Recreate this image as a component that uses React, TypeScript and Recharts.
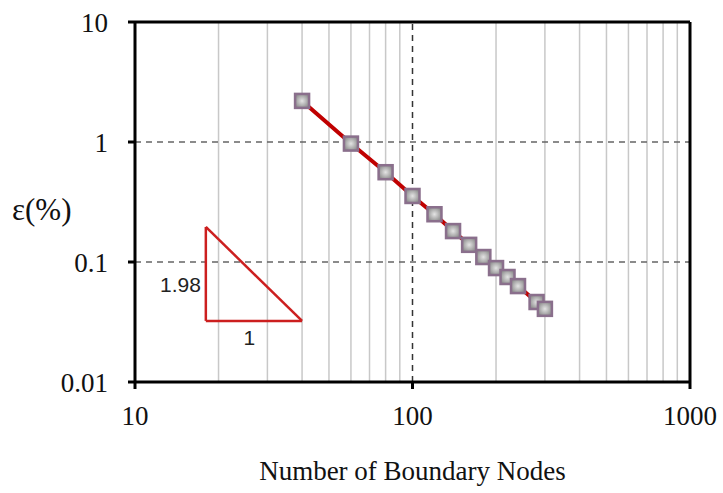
import React from 'react';
import { ComposedChart, Line, XAxis, YAxis, ReferenceLine, Label } from 'recharts';

// convergence of error vs number of boundary nodes (log-log)
const nodes = [40, 60, 80, 100, 120, 140, 160, 180, 200, 220, 240, 280, 300];
const errorPct = [2.2, 0.97, 0.56, 0.355, 0.25, 0.181, 0.139, 0.11, 0.089, 0.075, 0.063, 0.0464, 0.0407];

const xTicks = [10, 100, 1000];
const yTicks = [0.01, 0.1, 1, 10];
const xMinorGrid = [20, 30, 40, 50, 60, 70, 80, 90, 200, 300, 400, 500, 600, 700, 800, 900];
const yMajorGrid = [0.1, 1];

// slope triangle corners
const triLeft = 18;
const triRight = 40;
const triTop = 0.196;
const triBottom = 0.0323;

const data = nodes.map((n, i) => ({ n, e: errorPct[i] }));

const serif = '"Liberation Serif", "Times New Roman", serif';
const sans = '"Liberation Sans", Arial, sans-serif';

function SquareDot(props: any) {
  const { cx, cy } = props;
  if (cx == null || cy == null) return null;
  return (
    <rect
      x={cx - 7}
      y={cy - 7}
      width={14}
      height={14}
      fill="url(#dotFill)"
      stroke="#8a6f8c"
      strokeWidth={2.5}
    />
  );
}

export default function App() {
  return (
    <div style={{ position: 'absolute', left: 0, top: 0, width: 723, height: 493, background: '#fff' }}>
      <ComposedChart width={723} height={493} data={data} margin={{ top: 22, right: 33, bottom: 0, left: 0 }}>
        <defs>
          <radialGradient id="dotFill" cx="50%" cy="50%" r="65%">
            <stop offset="0%" stopColor="#e4e4e4" />
            <stop offset="100%" stopColor="#7d7d7d" />
          </radialGradient>
        </defs>
        <XAxis
          dataKey="n"
          type="number"
          scale="log"
          domain={[10, 1000]}
          ticks={xTicks}
          allowDataOverflow
          height={111}
          axisLine={{ stroke: '#000', strokeWidth: 3 }}
          tickLine={{ stroke: '#000', strokeWidth: 3 }}
          tickSize={7}
          tickMargin={17}
          tick={{ fill: '#111', fontSize: 27, fontFamily: serif }}
        >
          <Label
            value="Number of Boundary Nodes"
            position="insideBottom"
            offset={13}
            style={{ fill: '#111', fontSize: 27, fontFamily: serif }}
          />
        </XAxis>
        <YAxis
          type="number"
          scale="log"
          domain={[0.01, 10]}
          ticks={yTicks}
          allowDataOverflow
          width={135}
          axisLine={{ stroke: '#000', strokeWidth: 3 }}
          tickLine={{ stroke: '#000', strokeWidth: 3 }}
          tickSize={7}
          tickMargin={20}
          tickFormatter={(v: number) => String(v)}
          tick={{ fill: '#111', fontSize: 27, fontFamily: serif }}
        >
          <Label
            value="ε(%)"
            position="insideLeft"
            offset={12}
            dy={7}
            style={{ fill: '#111', fontSize: 31, fontFamily: serif }}
          />
        </YAxis>

        {xMinorGrid.map((v) => (
          <ReferenceLine key={'gx' + v} x={v} stroke="#c8c8c8" strokeWidth={1.5} />
        ))}
        <ReferenceLine x={100} stroke="#333" strokeDasharray="6 5" strokeWidth={1.5} />
        {yMajorGrid.map((v) => (
          <ReferenceLine key={'gy' + v} y={v} stroke="#666" strokeDasharray="6 5" strokeWidth={1.5} />
        ))}
        {/* frame on top and right */}
        <ReferenceLine y={10} stroke="#000" strokeWidth={3} />
        <ReferenceLine x={1000} stroke="#000" strokeWidth={3} />

        {/* slope triangle */}
        <ReferenceLine
          segment={[{ x: triLeft, y: triTop }, { x: triLeft, y: triBottom }]}
          stroke="#cc1f1f"
          strokeWidth={2.5}
        />
        <ReferenceLine
          segment={[{ x: triLeft, y: triBottom }, { x: triRight, y: triBottom }]}
          stroke="#cc1f1f"
          strokeWidth={2.5}
        />
        <ReferenceLine
          segment={[{ x: triLeft, y: triTop }, { x: triRight, y: triBottom }]}
          stroke="#cc1f1f"
          strokeWidth={2.5}
        />
        <ReferenceLine
          segment={[{ x: triLeft, y: 0.065 }, { x: triLeft, y: 0.065 }]}
          stroke="none"
          label={{ value: '1.98', position: 'left', fill: '#222', fontSize: 21, fontFamily: sans }}
        />
        <ReferenceLine
          segment={[{ x: 25.8, y: 0.0233 }, { x: 25.8, y: 0.0233 }]}
          stroke="none"
          label={{ value: '1', position: 'center', fill: '#222', fontSize: 21, fontFamily: sans }}
        />

        <Line
          dataKey="e"
          stroke="#c00000"
          strokeWidth={4}
          dot={<SquareDot />}
          activeDot={false}
          isAnimationActive={false}
        />
      </ComposedChart>
    </div>
  );
}
